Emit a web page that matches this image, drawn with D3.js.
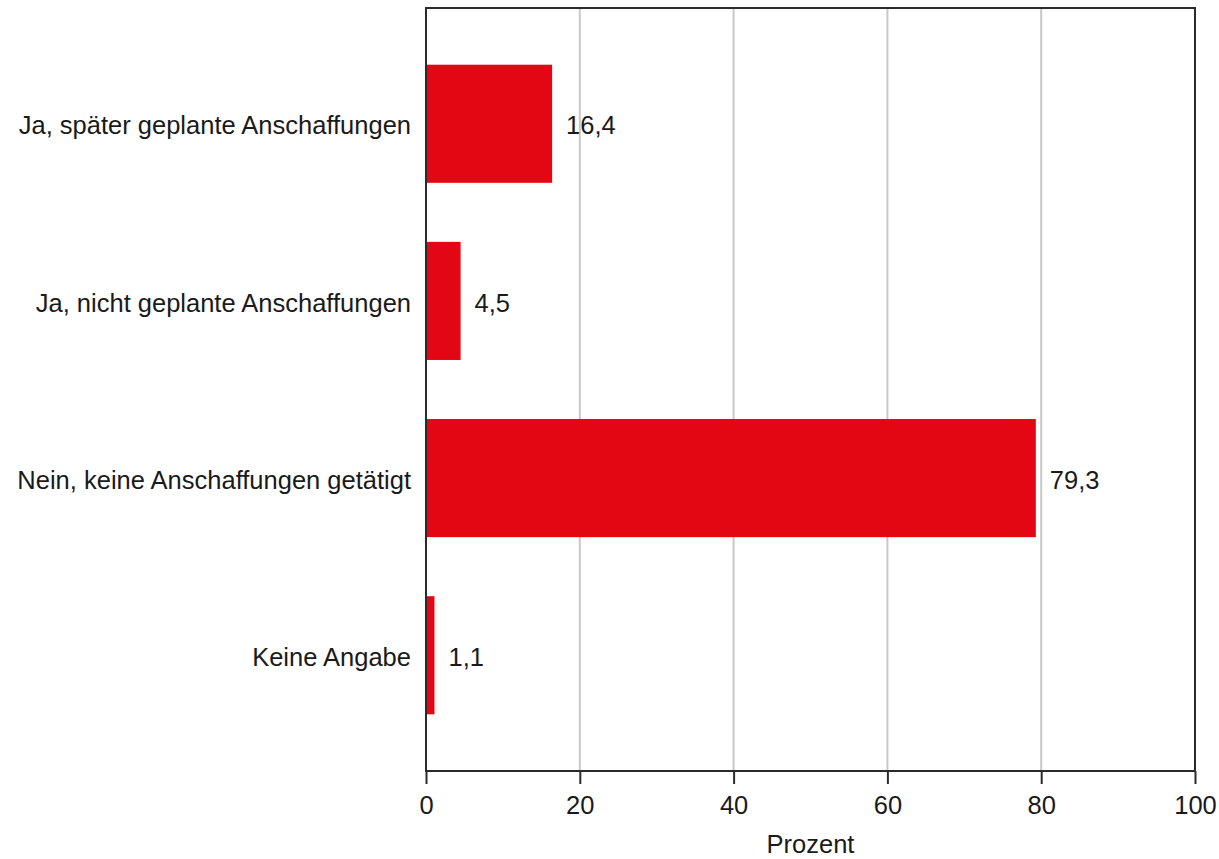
<!DOCTYPE html>
<html>
<head>
<meta charset="utf-8">
<script src="https://cdn.jsdelivr.net/npm/d3@7"></script>
<style>
  html, body { margin: 0; padding: 0; background: #fff; }
  svg text { font-family: "Liberation Sans", Arial, sans-serif; fill: #1a1a1a; }
</style>
</head>
<body>
<svg id="chart" width="1219" height="859"></svg>
<script>
// Survey answers and their shares in percent
const categories = [
  "Ja, später geplante Anschaffungen",
  "Ja, nicht geplante Anschaffungen",
  "Nein, keine Anschaffungen getätigt",
  "Keine Angabe"
];
const values = [16.4, 4.5, 79.3, 1.1];
const valueLabels = ["16,4", "4,5", "79,3", "1,1"];
const xTicks = [0, 20, 40, 60, 80, 100];
const xTitle = "Prozent";

const W = 1219, H = 859;
const margin = { top: 8, right: 24, bottom: 88, left: 426 };
const innerW = W - margin.left - margin.right;
const innerH = H - margin.top - margin.bottom;
const fontSize = 25.5;

const svg = d3.select("#chart");
const g = svg.append("g").attr("transform", `translate(${margin.left},${margin.top})`);

const x = d3.scaleLinear().domain([0, 100]).range([0, innerW]);
const y = d3.scaleBand().domain(categories).range([0, innerH])
  .paddingInner(1 / 3).paddingOuter(0.32);

// vertical gridlines
g.selectAll("line.grid")
  .data(xTicks.filter(t => t > 0 && t < 100))
  .join("line")
  .attr("class", "grid")
  .attr("x1", d => x(d)).attr("x2", d => x(d))
  .attr("y1", 0).attr("y2", innerH)
  .attr("stroke", "#c8c8c8").attr("stroke-width", 2);

// bars
g.selectAll("rect.bar")
  .data(values)
  .join("rect")
  .attr("class", "bar")
  .attr("x", x(0))
  .attr("y", (d, i) => y(categories[i]))
  .attr("width", d => x(d) - x(0))
  .attr("height", y.bandwidth())
  .attr("fill", "#e30613");

// value labels
g.selectAll("text.val")
  .data(values)
  .join("text")
  .attr("class", "val")
  .attr("x", d => x(d) + 14)
  .attr("y", (d, i) => y(categories[i]) + y.bandwidth() / 2)
  .attr("dy", "0.42em")
  .attr("font-size", fontSize)
  .text((d, i) => valueLabels[i]);

// plot frame
g.append("rect")
  .attr("x", 0).attr("y", 0)
  .attr("width", innerW).attr("height", innerH)
  .attr("fill", "none").attr("stroke", "#2b2b2b").attr("stroke-width", 2);

// category labels
const yAxis = g.append("g")
  .call(d3.axisLeft(y).tickSize(0).tickPadding(15));
yAxis.select(".domain").remove();
yAxis.selectAll("text")
  .attr("font-size", fontSize)
  .attr("dy", "0.42em")
  .style("font-family", "Liberation Sans, Arial, sans-serif")
  .attr("fill", "#1a1a1a");

// x axis
const xAxis = g.append("g")
  .attr("transform", `translate(0,${innerH})`)
  .call(d3.axisBottom(x).tickValues(xTicks).tickSize(13).tickPadding(12)
    .tickFormat(d3.format("d")));
xAxis.select(".domain").remove();
xAxis.selectAll(".tick line").attr("stroke", "#2b2b2b").attr("stroke-width", 2);
xAxis.selectAll("text")
  .attr("font-size", fontSize)
  .style("font-family", "Liberation Sans, Arial, sans-serif")
  .attr("fill", "#1a1a1a");

// axis title
g.append("text")
  .attr("x", innerW / 2)
  .attr("y", innerH + 82)
  .attr("text-anchor", "middle")
  .attr("font-size", fontSize)
  .text(xTitle);
</script>
</body>
</html>
